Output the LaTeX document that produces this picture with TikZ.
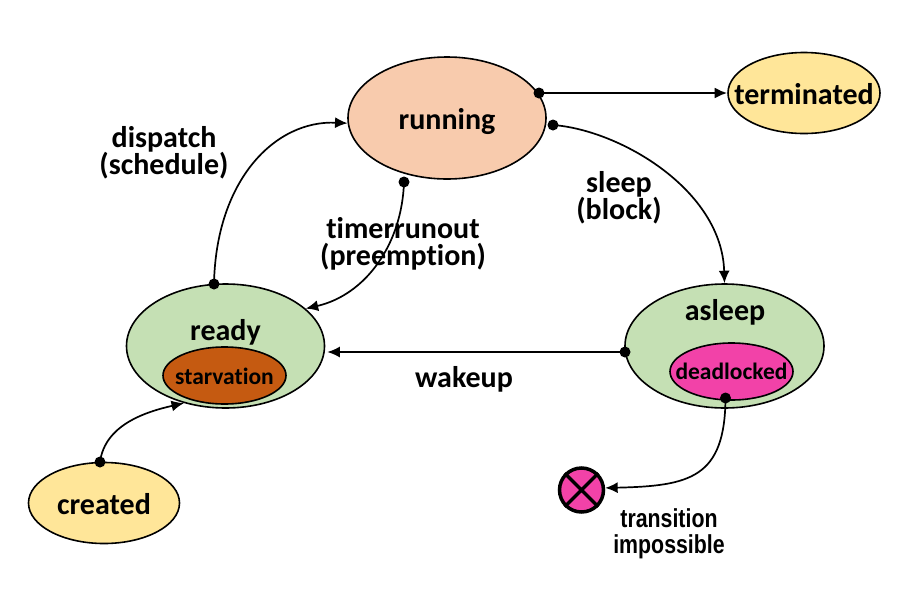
\documentclass[tikz,border=0pt]{standalone}
\usepackage{fontspec}
\setmainfont[Ligatures=NoCommon]{Carlito}
\newfontfamily\narrowfont[FakeStretch=0.82]{Liberation Sans}
\usetikzlibrary{arrows.meta,shapes.geometric}
\definecolor{runfill}{HTML}{F8CBAD}
\definecolor{greenfill}{HTML}{C5E0B4}
\definecolor{yellowfill}{HTML}{FFE699}
\definecolor{rustfill}{HTML}{C55A11}
\definecolor{pinkfill}{HTML}{F242A8}
\tikzset{
  state/.style n args={3}{ellipse,draw=black,line width=1.6pt,fill=#1,inner sep=0pt,
    minimum width=#2,minimum height=#3},
  big/.style={font=\fontsize{30}{27}\selectfont\bfseries,align=center,inner sep=0pt},
  small/.style={font=\fontsize{23.5}{26}\selectfont\bfseries,align=center,inner sep=0pt},
  narrow/.style={font=\fontsize{26}{26.5}\selectfont\narrowfont\bfseries,align=center,inner sep=0pt},
  dot/.style={circle,fill=black,inner sep=0pt,minimum size=11pt},
  link/.style={line width=1.7pt,-{Latex[length=12.5pt,width=11pt]}},
}
\begin{document}
\begin{tikzpicture}[x=1pt,y=-1pt]
\useasboundingbox (0,0) rectangle (919,595);
% states
\node[state={runfill}{198pt}{122pt}] (running) at (447,118) {};
\node[state={yellowfill}{152pt}{81pt}] (terminated) at (804,93) {};
\node[state={greenfill}{198pt}{124pt}] (ready) at (225.5,346) {};
\node[state={rustfill}{123pt}{57pt}] (starv) at (224.5,375.5) {};
\node[state={greenfill}{199pt}{124pt}] (asleep) at (724.5,346) {};
\node[state={pinkfill}{123pt}{57pt}] (dead) at (731.5,371.5) {};
\node[state={yellowfill}{151pt}{81pt}] (created) at (104,503) {};
\node[circle,draw=black,line width=3.5pt,fill=pinkfill,inner sep=0pt,minimum size=44pt] (never) at (581.5,490) {};
\draw[line width=3.5pt] (never.45) -- (never.225) (never.135) -- (never.315);
% state names
\node[big] (trunning) at (447,122) {running};
\node[big] (tterminated) at (804,94) {terminated};
\node[big] (tready) at (225.5,332) {ready};
\node[big] (tasleep) at (725,312.5) {asleep};
\node[big] (tcreated) at (104,504) {created};
\node[small] (tstarv) at (224.5,376.5) {starvation};
\node[small] (tdead) at (731.5,371.5) {deadlocked};
% transition labels
\node[big] (ldispatch) at (164,153) {dispatch\\(schedule)};
\node[big] (ltimer) at (403,244) {timerrunout\\(preemption)};
\node[big] (lsleep) at (619,198) {sleep\\(block)};
\node[big] (lwakeup) at (464,379.5) {wakeup};
\node[narrow] (limpossible) at (669,534) {transition\\impossible};
% transition origins
\node[dot] (d1) at (214,284) {};
\node[dot] (d2) at (539,93) {};
\node[dot] (d3) at (553,125) {};
\node[dot] (d4) at (404,182) {};
\node[dot] (d5) at (625,352) {};
\node[dot] (d6) at (100,462) {};
\node[dot] (d7) at (725.5,398) {};
% transitions
\draw[link] (d1.center) .. controls (216,180) and (275,120) .. (running.183);
\draw[link,line width=2.2pt] (d2.center) -- (terminated.west |- d2);
\draw[link] (d3.center) .. controls (620,130) and (722,190) .. (asleep.90);
\draw[link] (d4.center) .. controls (402,245) and (365,295) .. (ready.25.5);
\draw[link] (d5.center) -- ([xshift=2pt]ready.east |- d5);
\draw[link] (d6.center) .. controls (105,425) and (145,412) .. (ready.234);
\draw[link] (d7.center) .. controls (725,478) and (690,486) .. (never.5);
\end{tikzpicture}
\end{document}
